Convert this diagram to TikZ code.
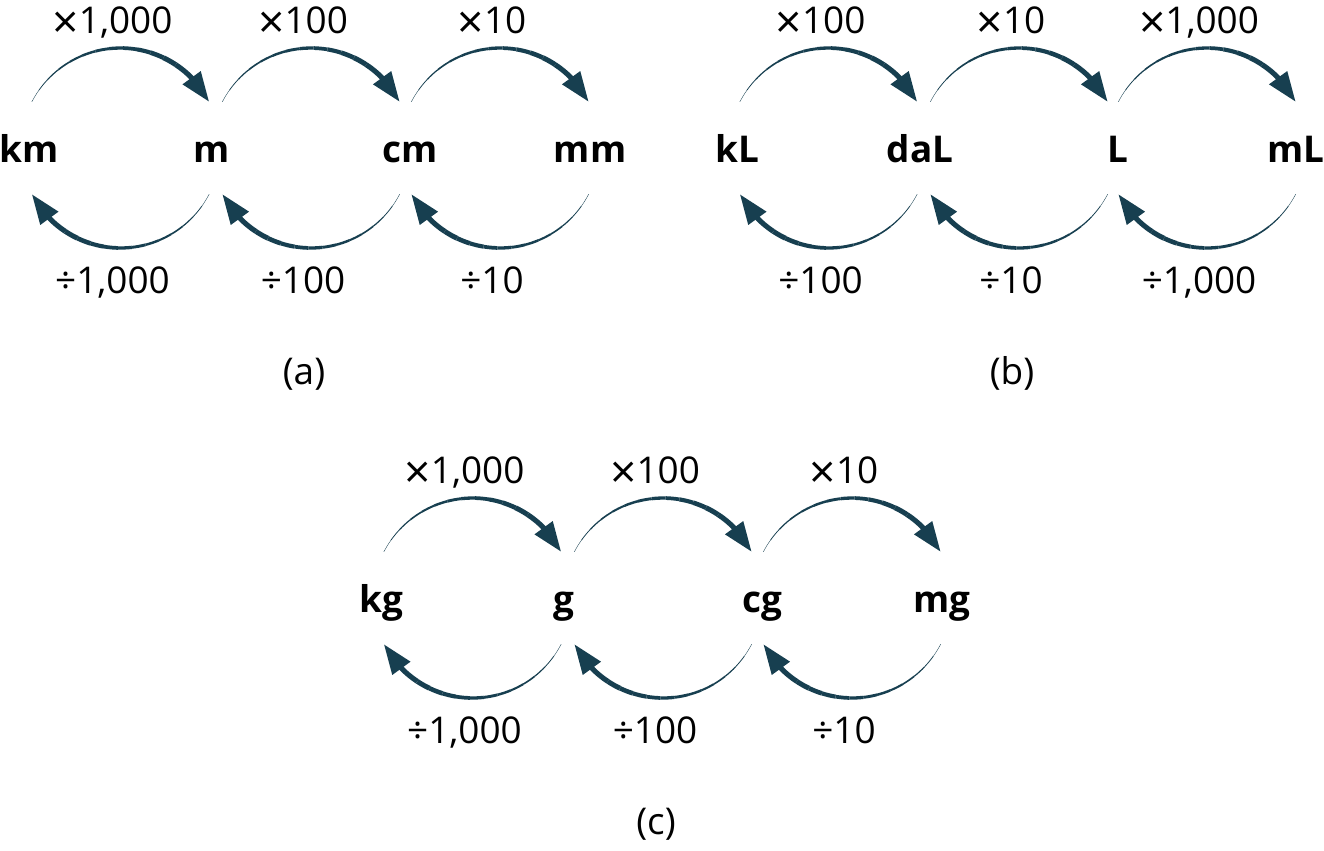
\documentclass[tikz,border=0pt]{standalone}
\usepackage{fontspec}
\setmainfont{Open Sans}
\usetikzlibrary{arrows.meta,
  bending,
  calc,
  positioning
}
\definecolor{arrowcol}{HTML}{173F50}
\newcommand{\bigtimes}{\raisebox{-0.14em}{\scalebox{1.25}{×}}}
\tikzset{
  unit/.style={font=\bfseries\fontsize{21}{25}\selectfont,inner sep=0pt,text height=16pt,text depth=0pt},
  op/.style={font=\fontsize{21}{25}\selectfont,inner sep=0pt,anchor=base},
  convline/.style={draw=arrowcol}
}

% tapered arc over two units, head on the right
\newcommand{\uparc}[3]{%
  \coordinate (#1#2) at ($(#1)!0.5!(#2)$);
  \foreach \i in {0,...,11}
    \draw[convline,line width={0.2pt+0.24pt*\i}] ($(#1#2)+({152.5-8*\i}:2cm)$) arc[start angle={152.5-8*\i},delta angle=-8,radius=2cm];
  \draw[convline,line width=2.9pt,-{Triangle[length=17pt,width=12pt,flex]}] ($(#1#2)+(56.5:2cm)$) arc[start angle=56.5,end angle=27.5,radius=2cm];
  \node[op] (#1#2up) at ($(#1#2)+(-8,-115)$) {#3};
}
% tapered arc under two units, head on the left
\newcommand{\downarc}[3]{%
  \coordinate (#1#2) at ($(#1)!0.5!(#2)$);
  \foreach \i in {0,...,11}
    \draw[convline,line width={0.2pt+0.24pt*\i}] ($(#1#2)+({-27.5-8*\i}:2cm)$) arc[start angle={-27.5-8*\i},delta angle=-8,radius=2cm];
  \draw[convline,line width=2.9pt,-{Triangle[length=17pt,width=12pt,flex]}] ($(#1#2)+(-123.5:2cm)$) arc[start angle=-123.5,end angle=-152.5,radius=2cm];
  \node[op] (#1#2down) at ($(#1#2)+(-8,145)$) {#3};
}

\begin{document}
\begin{tikzpicture}[x=0.02cm,y=-0.02cm]
  \useasboundingbox (0,0) rectangle (1324,850);

  % (a) length
  \node[unit] (km) at (29,148) {km};
  \node[unit] (m) at (212,148) {m};
  \node[unit] (cm) at (410,148) {cm};
  \node[unit] (mm) at (590,148) {mm};
  \uparc{km}{m}{\bigtimes1,000}
  \uparc{m}{cm}{\bigtimes100}
  \uparc{cm}{mm}{\bigtimes10}
  \downarc{km}{m}{÷1,000}
  \downarc{m}{cm}{÷100}
  \downarc{cm}{mm}{÷10}
  \node[op] (pa) at ($(m)!0.5!(cm)+(-7,236)$) {(a)};

  % (b) capacity
  \node[unit] (kL) at (737,148) {kL};
  \node[unit] (daL) at (920,148) {daL};
  \node[unit] (L) at (1118,148) {L};
  \node[unit] (mL) at (1296,148) {mL};
  \uparc{kL}{daL}{\bigtimes100}
  \uparc{daL}{L}{\bigtimes10}
  \uparc{L}{mL}{\bigtimes1,000}
  \downarc{kL}{daL}{÷100}
  \downarc{daL}{L}{÷10}
  \downarc{L}{mL}{÷1,000}
  \node[op] (pb) at ($(daL)!0.5!(L)+(-7,236)$) {(b)};

  % (c) mass
  \node[unit] (kg) at (381,598) {kg};
  \node[unit] (g) at (564,598) {g};
  \node[unit] (cg) at (762,598) {cg};
  \node[unit] (mg) at (942,598) {mg};
  \uparc{kg}{g}{\bigtimes1,000}
  \uparc{g}{cg}{\bigtimes100}
  \uparc{cg}{mg}{\bigtimes10}
  \downarc{kg}{g}{÷1,000}
  \downarc{g}{cg}{÷100}
  \downarc{cg}{mg}{÷10}
  \node[op] (pc) at ($(g)!0.5!(cg)+(-7,236)$) {(c)};
\end{tikzpicture}
\end{document}
